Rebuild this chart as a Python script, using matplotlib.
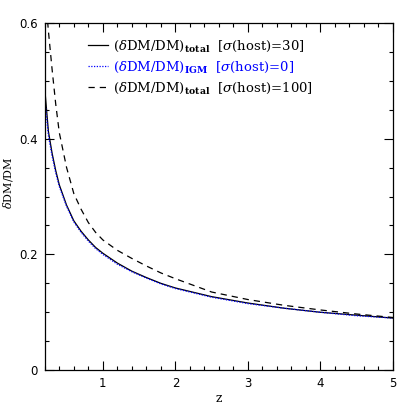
import numpy as np
import matplotlib
matplotlib.use("Agg")
import matplotlib.pyplot as plt
from matplotlib.ticker import MultipleLocator

# values
z = [0.2, 0.25, 0.3, 0.35, 0.4, 0.5, 0.6, 0.7, 0.8, 0.9, 1.0,
     1.2, 1.4, 1.6, 1.8, 2.0, 2.5, 3.0, 3.5, 4.0, 4.5, 5.0]
total_30 = [0.485, 0.412, 0.375, 0.345, 0.320, 0.285, 0.258, 0.240, 0.225, 0.212, 0.202,
            0.185, 0.171, 0.160, 0.150, 0.142, 0.127, 0.116, 0.107, 0.100, 0.095, 0.090]
igm_0 = [0.467, 0.405, 0.370, 0.341, 0.317, 0.283, 0.256, 0.238, 0.223, 0.210, 0.200,
         0.183, 0.170, 0.159, 0.149, 0.141, 0.126, 0.115, 0.107, 0.100, 0.094, 0.090]
total_100 = [0.66, 0.585, 0.520, 0.460, 0.410, 0.350, 0.305, 0.278, 0.255, 0.238, 0.225,
             0.207, 0.193, 0.180, 0.168, 0.158, 0.135, 0.122, 0.112, 0.104, 0.097, 0.091]

labels = [r"$(\delta\mathrm{DM/DM})_{\mathbf{total}}$  [$\sigma$(host)=30]",
          r"$(\delta\mathrm{DM/DM})_{\mathbf{IGM}}$  [$\sigma$(host)=0]",
          r"$(\delta\mathrm{DM/DM})_{\mathbf{total}}$  [$\sigma$(host)=100]"]

plt.rcParams["mathtext.fontset"] = "dejavuserif"
plt.rcParams["font.family"] = "DejaVu Serif"

fig = plt.figure(figsize=(4.15, 4.15), dpi=100)
ax = fig.add_axes([0.108, 0.108, 0.839, 0.837])

ax.plot(z, total_30, color="black", lw=0.9, label=labels[0])
ax.plot(z, igm_0, color="blue", lw=0.9, ls=(0, (1, 1.2)), label=labels[1])
ax.plot(z, total_100, color="black", lw=0.9, ls=(0, (5, 4)), label=labels[2])

ax.set_xlim(0.2, 5)
ax.set_ylim(0, 0.6)
ax.xaxis.set_minor_locator(MultipleLocator(0.2))
ax.yaxis.set_minor_locator(MultipleLocator(0.05))
ax.set_yticks([0, 0.2, 0.4, 0.6])
ax.set_yticklabels(["0", "0.2", "0.4", "0.6"], family="DejaVu Sans")
ax.set_xticks([1, 2, 3, 4, 5])
ax.set_xticklabels(["1", "2", "3", "4", "5"], family="DejaVu Sans")
ax.tick_params(which="both", direction="in", top=True, right=True, width=0.8)
ax.tick_params(which="major", length=6.5, labelsize=8.5, pad=5)
ax.tick_params(which="minor", length=3)
for s in ax.spines.values():
    s.set_linewidth(0.9)

ax.set_xlabel("z", fontsize=9, labelpad=1)
ax.set_ylabel(r"$\delta$DM/DM", fontsize=8, labelpad=6)
ax.yaxis.set_label_coords(-0.085, 0.54)

ax.legend(loc="upper left", bbox_to_anchor=(0.124, 0.955), frameon=False,
          borderaxespad=0, borderpad=0,
          fontsize=9.5, handlelength=1.5, handletextpad=0.4, labelspacing=0.45,
          labelcolor="linecolor")

fig.savefig("out.png", dpi=100)
